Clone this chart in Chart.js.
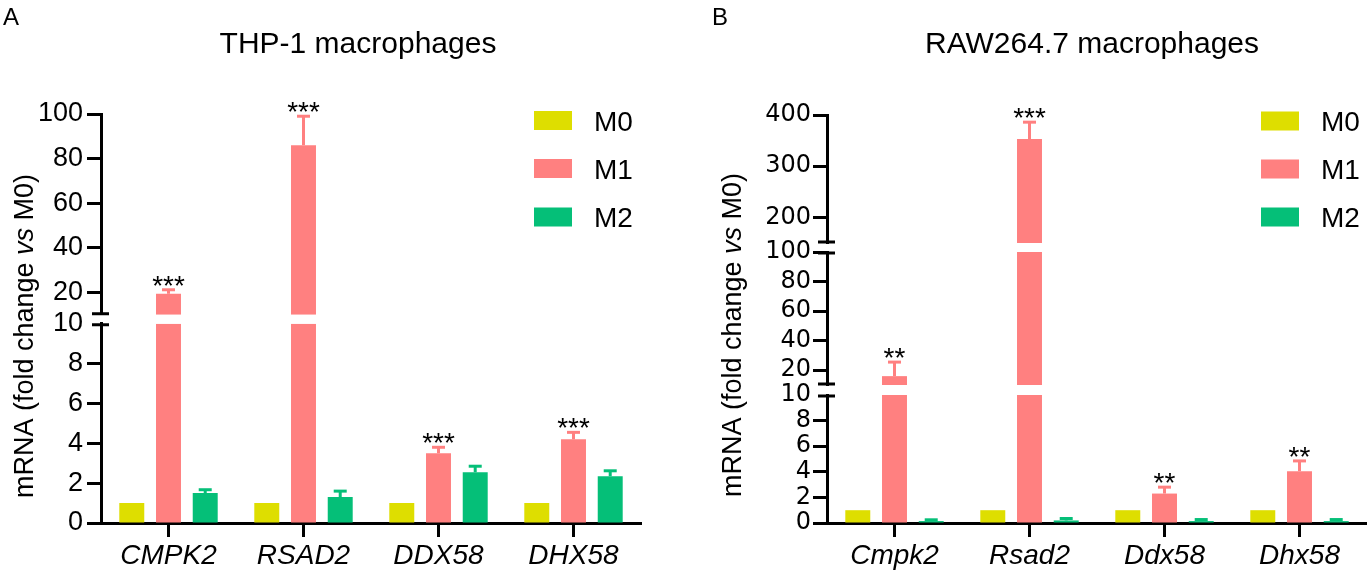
<!DOCTYPE html>
<html><head><meta charset="utf-8">
<script src="https://cdn.jsdelivr.net/npm/chart.js@4.4.1/dist/chart.umd.min.js"></script>
<style>
html,body{margin:0;padding:0;background:#fff;}
#wrap{position:relative;width:1367px;height:576px;overflow:hidden;}
.pan{position:absolute;top:0;height:576px;}
#pa{left:0;width:683px;}
#pb{left:683px;width:684px;}
</style></head><body>
<div id="wrap"><div class="pan" id="pa"><canvas id="ca"></canvas></div><div class="pan" id="pb"><canvas id="cb"></canvas></div></div>
<script>
// ---------- data ----------
const seriesNames = ['M0', 'M1', 'M2'];
const seriesColors = ['#dede00', '#ff8080', '#05bf78'];

const genesA = ['CMPK2', 'RSAD2', 'DDX58', 'DHX58'];
const m0A = [1, 1, 1, 1];
const m1A = [19.4, 86, 3.5, 4.2];
const m2A = [1.5, 1.3, 2.55, 2.35];
const m0ErrA = [0, 0, 0, 0];
const m1ErrA = [1.8, 13, 0.3, 0.35];
const m2ErrA = [0.17, 0.3, 0.3, 0.27];
const sigA = ['***', '***', '***', '***'];

const genesB = ['Cmpk2', 'Rsad2', 'Ddx58', 'Dhx58'];
const m0B = [1, 1, 1, 1];
const m1B = [16, 353, 2.3, 4.05];
const m2B = [0.15, 0.2, 0.15, 0.15];
const m0ErrB = [0, 0, 0, 0];
const m1ErrB = [9.5, 33, 0.5, 0.8];
const m2ErrB = [0.1, 0.15, 0.12, 0.12];
const sigB = ['**', '***', '**', '**'];

// broken-axis segments, bottom to top
const segmentsA = [[0, 10], [10, 100]];
const segmentsB = [[0, 10], [10, 100], [150, 400]];
const ticksA = [[0, 2, 4, 6, 8, 10], [20, 40, 60, 80, 100]];
const ticksB = [[0, 2, 4, 6, 8, 10], [20, 40, 60, 80, 100], [200, 300, 400]];

const titleA = 'THP-1 macrophages';
const titleB = 'RAW264.7 macrophages';
// ---------- end data ----------

const FF = "'Liberation Sans', Arial, sans-serif";

function buildChart(canvas, cfg) {
  const values = cfg.values, errs = cfg.errs, segs = cfg.segments;
  const scales = {
    x: {
      type: 'category', labels: cfg.genes, offset: true,
      grid: {display: true, drawOnChartArea: false, offset: false, tickLength: 14, tickWidth: 3, tickColor: '#000', color: '#000'},
      border: {display: true, width: 3, color: '#000'},
      ticks: {font: {family: FF, size: 28, style: 'italic'}, color: '#000', padding: 2, maxRotation: 0, autoSkip: false},
      afterFit: s => { s.height = cfg.xAxisH; }
    }
  };
  segs.forEach((seg, k) => {
    const tickArr = cfg.ticks[k];
    scales['y' + k] = {
      type: 'linear', position: 'left', stack: 'ax', stackWeight: cfg.segPx[k],
      min: seg[0], max: seg[1],
      afterBuildTicks: s => { s.ticks = tickArr.map(v => ({value: v})); },
      afterFit: s => { s.width = cfg.yAxisW; },
      border: {display: true, width: 3, color: '#000'},
      grid: {display: true, drawOnChartArea: false, drawTicks: true, tickLength: 14, tickWidth: 3, color: '#000',
        tickColor: c => (k === 0 && segs.length > 1 && c.tick && c.tick.value === seg[1]) ? 'rgba(0,0,0,0)' : '#000'},
      ticks: {font: {family: cfg.tickFont, size: cfg.tickSize}, color: '#000', padding: cfg.tickPad, autoSkip: false}
    };
    if (k < segs.length - 1) {
      scales['g' + k] = {
        type: 'linear', position: 'left', stack: 'ax', stackWeight: cfg.gapPx[k], min: 0, max: 1,
        border: {display: false}, grid: {display: false}, ticks: {display: false},
        afterFit: s => { s.width = cfg.yAxisW; }
      };
    }
  });

  const datasets = [];
  const dsIndex = {};
  seriesNames.forEach((name, s) => {
    segs.forEach((seg, k) => {
      const data = values[s].map(v => {
        if (k === 0) return Math.min(v, seg[1]);
        return v > seg[0] ? [seg[0], Math.min(v, seg[1])] : null;
      });
      dsIndex[s + '_' + k] = datasets.length;
      datasets.push({
        label: name, data, yAxisID: 'y' + k, stack: name,
        backgroundColor: seriesColors[s], borderWidth: 0,
        categoryPercentage: 0.816, barPercentage: 0.68
      });
    });
  });

  const decor = {
    id: 'decor',
    afterDatasetsDraw(chart) {
      const ctx = chart.ctx;
      ctx.save();
      seriesNames.forEach((name, s) => {
        values[s].forEach((v, j) => {
          const e = errs[s][j];
          let k = 0;
          segs.forEach((seg, kk) => { if (v > seg[0]) k = kk; });
          const meta = chart.getDatasetMeta(dsIndex[s + '_' + k]);
          const bar = meta.data[j];
          const sc = chart.scales['y' + k];
          const x = bar.x;
          const yTop = sc.getPixelForValue(v);
          const yCap = sc.getPixelForValue(v + e);
          if (e > 0) {
            ctx.strokeStyle = seriesColors[s];
            ctx.lineWidth = 3;
            ctx.beginPath(); ctx.moveTo(x, yTop); ctx.lineTo(x, yCap); ctx.stroke();
            ctx.beginPath(); ctx.moveTo(x - 6.5, yCap); ctx.lineTo(x + 6.5, yCap); ctx.stroke();
          }
          if (s === 1 && cfg.sig[j]) {
            ctx.fillStyle = '#000';
            ctx.font = '28px ' + FF;
            ctx.textAlign = 'center';
            ctx.textBaseline = 'alphabetic';
            ctx.fillText(cfg.sig[j], x, yCap + 5);
          }
        });
      });
      ctx.restore();
    },
    afterDraw(chart) {
      const ctx = chart.ctx;
      const ca = chart.chartArea;
      ctx.save();
      // break marks
      ctx.strokeStyle = '#000'; ctx.lineWidth = 3;
      const ax = ca.left - 1;
      segs.forEach((seg, k) => {
        const sc = chart.scales['y' + k];
        const ys = [];
        if (k > 0) ys.push(sc.bottom - 1);
        if (k < segs.length - 1) ys.push(sc.top + 1);
        ys.forEach(y => { ctx.beginPath(); ctx.moveTo(ax - 8, y); ctx.lineTo(ax + 9, y); ctx.stroke(); });
      });
      // title + panel letter
      ctx.fillStyle = '#000';
      ctx.textBaseline = 'alphabetic';
      ctx.font = '30px ' + FF; ctx.textAlign = 'center';
      ctx.fillText(cfg.title, cfg.titleX, 53);
      ctx.font = '24px ' + FF; ctx.textAlign = 'left';
      ctx.fillText(cfg.letter, cfg.letterX, 25);
      // y axis title with italic "vs"
      const parts = [['mRNA (fold change ', 'normal'], ['vs', 'italic'], [' M0)', 'normal']];
      let total = 0;
      parts.forEach(p => { ctx.font = p[1] + ' 27px ' + FF; p.push(ctx.measureText(p[0]).width); total += p[2]; });
      ctx.translate(cfg.yTitleX, cfg.yTitleY);
      ctx.rotate(-Math.PI / 2);
      let px = -total / 2;
      ctx.textAlign = 'left';
      parts.forEach(p => { ctx.font = p[1] + ' 27px ' + FF; ctx.fillText(p[0], px, 0); px += p[2]; });
      ctx.setTransform(chart.currentDevicePixelRatio, 0, 0, chart.currentDevicePixelRatio, 0, 0);
      // legend
      ctx.font = '28px ' + FF; ctx.textAlign = 'left';
      seriesNames.forEach((name, s) => {
        const cy = cfg.legendY[s];
        ctx.fillStyle = seriesColors[s];
        ctx.fillRect(cfg.legendX, cy - 9.5, 38, 19);
        ctx.fillStyle = '#000';
        ctx.fillText(name, cfg.legendX + 60, cy + 10);
      });
      ctx.restore();
    }
  };

  return new Chart(canvas, {
    type: 'bar',
    data: {labels: cfg.genes, datasets},
    options: {
      responsive: true, maintainAspectRatio: false, animation: false,
      layout: {padding: cfg.padding},
      plugins: {legend: {display: false}, tooltip: {enabled: false}},
      scales
    },
    plugins: [decor]
  });
}

buildChart(document.getElementById('ca'), {
  genes: genesA, values: [m0A, m1A, m2A], errs: [m0ErrA, m1ErrA, m2ErrA], sig: sigA,
  segments: segmentsA, ticks: ticksA, segPx: [199, 200.5], gapPx: [9],
  yAxisW: 62, xAxisH: 53, tickFont: FF, tickSize: 27, tickPad: 4,
  padding: {left: 39, right: 42, top: 114, bottom: 0},
  title: titleA, titleX: 358, letter: 'A', letterX: 3,
  yTitleX: 33, yTitleY: 336, legendX: 534, legendY: [120.5, 168.5, 217]
});

buildChart(document.getElementById('cb'), {
  genes: genesB, values: [m0B, m1B, m2B], errs: [m0ErrB, m1ErrB, m2ErrB], sig: sigB,
  segments: segmentsB, ticks: ticksB, segPx: [128, 133, 128], gapPx: [10, 9],
  yAxisW: 62, xAxisH: 53, tickFont: "'DejaVu Sans', sans-serif", tickSize: 24, tickPad: 2,
  padding: {left: 82, right: 0, top: 115, bottom: 0},
  title: titleB, titleX: 409, letter: 'B', letterX: 29,
  yTitleX: 58, yTitleY: 335, legendX: 578, legendY: [121, 169, 217]
});
</script>
</body></html>
